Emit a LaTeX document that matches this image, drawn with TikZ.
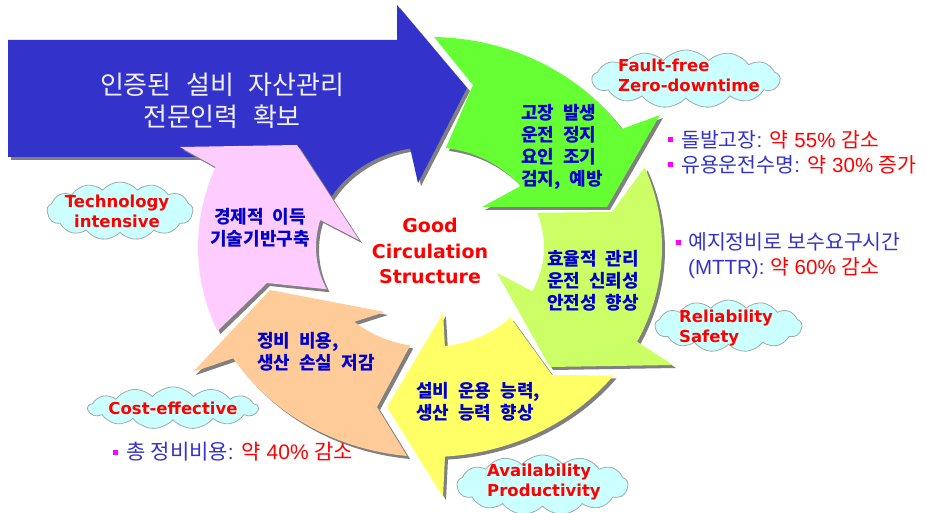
\documentclass[tikz,border=0pt]{standalone}
\usepackage{fontspec}
\usetikzlibrary{shapes.symbols}
\newfontfamily\krw{Noto Sans CJK KR}
\newfontfamily\krn[WordSpace=1.1]{Noto Sans CJK KR}
\newfontfamily\enf{DejaVu Sans}
\newfontfamily\arf{Liberation Sans}
\newcommand\ringsp{\spaceskip=0.5em\relax}
\newcommand\bigsp{\spaceskip=0.55em\relax}
\definecolor{arrowblue}{RGB}{51,51,204}
\definecolor{ringgreen}{RGB}{102,255,51}
\definecolor{ringlime}{RGB}{204,255,102}
\definecolor{ringyellow}{RGB}{255,255,102}
\definecolor{ringpeach}{RGB}{255,204,153}
\definecolor{ringpink}{RGB}{255,204,255}
\definecolor{shadowgray}{RGB}{128,128,128}
\definecolor{cloudfill}{RGB}{204,255,255}
\definecolor{cloudline}{RGB}{160,170,170}
\definecolor{labelblue}{RGB}{0,0,204}
\definecolor{textblue}{RGB}{51,51,204}
\definecolor{alertred}{RGB}{255,0,0}
\definecolor{bulletmag}{RGB}{255,0,255}
\definecolor{pale}{RGB}{240,240,255}

\def\pathBlue{(-422,207) -- (-33,207) -- (-33,242) -- (37,159) -- (-12,64) -- (100:114 and 100) arc[start angle=100,end angle=160,x radius=114,y radius=100] -- (-180,90) -- (-422,90) -- cycle}
\def\pathGreen{(89:232 and 210) -- (43,162) -- (82:114 and 100) arc[start angle=82,end angle=37.5,x radius=114,y radius=100] -- (52,40) -- (177,40) -- (230,132) -- (34.2:232 and 210) arc[start angle=34.2,end angle=89,x radius=232,y radius=210] -- cycle}
\def\pathLime{(22.3:232 and 210) arc[start angle=22.3,end angle=-26.8,x radius=232,y radius=210] -- (243,-118) -- (120,-120) -- (67,-26) -- (-26.2:114 and 100) arc[start angle=-26.2,end angle=20,x radius=114,y radius=100] -- (182,35) -- cycle}
\def\pathYellow{(-37.7:232 and 210) arc[start angle=-37.7,end angle=-86.3,x radius=232,y radius=210] -- (13,-250) -- (-43,-160) -- (13,-66) -- (-82.5:114 and 100) arc[start angle=-82.5,end angle=-45,x radius=114,y radius=100] -- (122,-128) -- cycle}
\def\pathPeach{(-95.7:232 and 210) arc[start angle=-95.7,end angle=-148,x radius=232,y radius=210] -- (-237,-125) -- (-160,-43) -- (-45,-65) -- (-131.6:114 and 100) arc[start angle=-131.6,end angle=-100,x radius=114,y radius=100] -- (-53,-160) -- cycle}
\def\pathPink{(-156.4:232 and 210) arc[start angle=-156.4,end angle=-202.4,x radius=232,y radius=210] -- (-250,100) -- (-133,102) -- (-71,7) -- (164.3:114 and 100) arc[start angle=164.3,end angle=205,x radius=114,y radius=100] -- (-163,-36) -- cycle}

\tikzset{
  cloudbox/.style={cloud, cloud puffs=13, cloud puff arc=100, cloud ignores aspect, fill=cloudfill, draw=cloudline, line width=0.8pt, inner sep=0pt},
  cloudtext/.style={font=\enf\bfseries\fontsize{16.5}{20}\selectfont, text=alertred, inner sep=0pt, align=left},
  ringtext/.style={font=\krw\bfseries\fontsize{18}{22}\selectfont\ringsp, text=labelblue, inner sep=0pt, align=left},
  bigtext/.style={font=\krw\fontsize{26}{32}\selectfont\bigsp, text=pale, inner sep=0pt, align=center},
  centertext/.style={font=\enf\bfseries\fontsize{19}{25.5}\selectfont, text=alertred, inner sep=0pt, align=center},
  bulletsq/.style={rectangle, fill=bulletmag, inner sep=0pt, minimum size=5pt},
  bullettext/.style={font=\arf\fontsize{20.5}{25}\selectfont, text=textblue, inner sep=0pt, align=left, anchor=west}
}

\begin{document}
\begin{tikzpicture}[x=1pt,y=1pt]
\useasboundingbox (0,0) rectangle (926,512);
\fill[white] (0,0) rectangle (926,512);

\begin{scope}[shift={(430,265)}]
  \begin{scope}[shift={(3,-3)}]\fill[shadowgray] \pathBlue;\end{scope}
  \fill[arrowblue] \pathBlue;
  \begin{scope}[shift={(3,-3)}]\fill[shadowgray] \pathGreen;\end{scope}
  \fill[ringgreen] \pathGreen;
  \begin{scope}[shift={(3,-3)}]\fill[shadowgray] \pathLime;\end{scope}
  \fill[ringlime] \pathLime;
  \begin{scope}[shift={(3,-3)}]\fill[shadowgray] \pathYellow;\end{scope}
  \fill[ringyellow] \pathYellow;
  \begin{scope}[shift={(3,-3)}]\fill[shadowgray] \pathPeach;\end{scope}
  \fill[ringpeach] \pathPeach;
  \begin{scope}[shift={(3,-3)}]\fill[shadowgray] \pathPink;\end{scope}
  \fill[ringpink] \pathPink;
\end{scope}

% texts in arrows
\node[bigtext] (bluetext) at (222,411) {인증된 설비 자산관리\\전문인력 확보};
\node[ringtext, anchor=west] (greentext) at (521,365.5) {고장 발생\\운전 정지\\요인 조기\\검지, 예방};
\node[ringtext, anchor=west] (limetext) at (547,231) {효율적 관리\\운전 신뢰성\\안전성 향상};
\node[ringtext, anchor=west] (yellowtext) at (416,110.5) {설비 운용 능력,\\생산 능력 향상};
\node[ringtext, anchor=west] (peachtext) at (257,160.5) {정비 비용,\\생산 손실 저감};
\node[ringtext, align=center] (pinktext) at (260,284.5) {경제적 이득\\기술기반구축};
\node[centertext] (center) at (430,261) {Good\\Circulation\\Structure};

% clouds
\node[cloudbox, minimum width=188pt, minimum height=58pt] (cloudFault) at (686,433) {};
\node[cloudtext, anchor=west] (txtFault) at (618,437) {Fault-free\\Zero-downtime};
\node[cloudbox, minimum width=146pt, minimum height=58pt] (cloudTech) at (120,301) {};
\node[cloudtext, align=center] (txtTech) at (117,300.5) {Technology\\intensive};
\node[cloudbox, minimum width=147pt, minimum height=52pt] (cloudRel) at (728.5,186) {};
\node[cloudtext, anchor=west] (txtRel) at (679,184) {Reliability\\Safety};
\node[cloudbox, minimum width=171pt, minimum height=60pt] (cloudAvail) at (542.5,27) {};
\node[cloudtext, anchor=west] (txtAvail) at (487,30) {Availability\\Productivity};
\node[cloudbox, minimum width=170pt, minimum height=42pt] (cloudCost) at (173,104) {};
\node[cloudtext] (txtCost) at (173,104) {Cost-effective};

% bullets
\node[bulletsq] (b1) at (670.5,372) {};
\node[bullettext] (t1) at (681,372) {{\krn 돌발고장}: \textcolor{alertred}{{\krn 약} 55\% {\krn 감소}}};
\node[bulletsq] (b2) at (670.5,347) {};
\node[bullettext] (t2) at (681,347) {{\krn 유용운전수명}: \textcolor{alertred}{{\krn 약} 30\% {\krn 증가}}};
\node[bulletsq] (b3) at (678,269) {};
\node[bullettext] (t3) at (688,256.5) {{\krn 예지정비로 보수요구시간}\\(MTTR): \textcolor{alertred}{{\krn 약} 60\% {\krn 감소}}};
\node[bulletsq] (b4) at (115,60) {};
\node[bullettext, font=\arf\fontsize{21}{25}\selectfont] (t4) at (126,60) {{\krn 총 정비비용}: \textcolor{alertred}{{\krn 약} 40\% {\krn 감소}}};
\end{tikzpicture}
\end{document}
